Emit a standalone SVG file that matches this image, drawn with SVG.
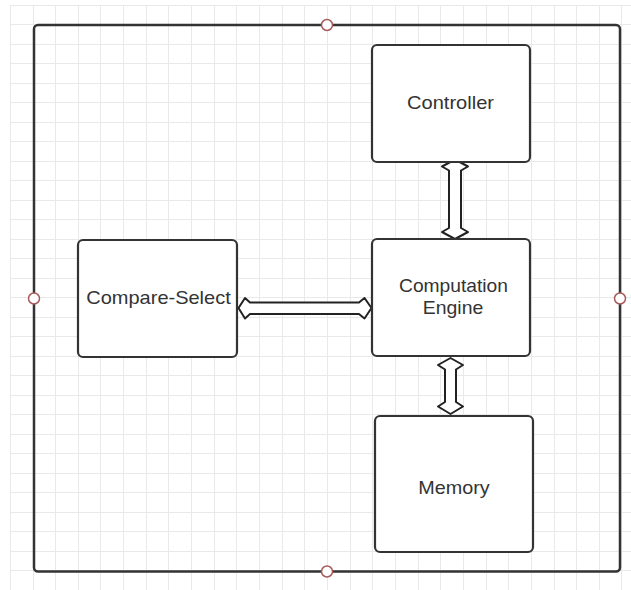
<svg xmlns="http://www.w3.org/2000/svg" width="631" height="590" viewBox="0 0 631 590">
  <style>
    .grid { stroke: #e9e9e9; stroke-width: 1; fill: none; }
    .frame { fill: none; stroke: #333333; stroke-width: 2.5; }
    .box { fill: #ffffff; stroke: #333333; stroke-width: 2.2; }
    .port { fill: #ffffff; stroke: #a85a5a; stroke-width: 1.5; }
    .arrow { fill: #ffffff; stroke: #222222; stroke-width: 2; stroke-linejoin: round; }
    .label { font-family: "Liberation Sans", Arial, sans-serif; font-size: 19px; fill: #333333; text-anchor: middle; }
  </style>
  <rect x="0" y="0" width="631" height="590" fill="#ffffff"/>
  <g id="grid">
    <path class="grid" d="M10.5 5V590M33.5 5V590M55.5 5V590M78.5 5V590M100.5 5V590M123.5 5V590M146.5 5V590M168.5 5V590M191.5 5V590M214.5 5V590M236.5 5V590M259.5 5V590M282.5 5V590M304.5 5V590M327.5 5V590M350.5 5V590M372.5 5V590M395.5 5V590M418.5 5V590M440.5 5V590M463.5 5V590M486.5 5V590M508.5 5V590M531.5 5V590M554.5 5V590M576.5 5V590M599.5 5V590M621.5 5V590"/>
    <path class="grid" d="M10 5.5H631M10 24.5H631M10 44.5H631M10 63.5H631M10 83.5H631M10 102.5H631M10 122.5H631M10 141.5H631M10 161.5H631M10 180.5H631M10 200.5H631M10 219.5H631M10 239.5H631M10 258.5H631M10 278.5H631M10 297.5H631M10 317.5H631M10 336.5H631M10 356.5H631M10 375.5H631M10 395.5H631M10 414.5H631M10 434.5H631M10 453.5H631M10 473.5H631M10 492.5H631M10 512.5H631M10 531.5H631M10 551.5H631M10 570.5H631"/>
  </g>
  <g id="container">
    <rect class="frame" x="34" y="25" width="586" height="546.5" rx="4"/>
    <circle class="port" cx="327" cy="25" r="5.5"/>
    <circle class="port" cx="34" cy="298.5" r="5.5"/>
    <circle class="port" cx="620" cy="298.5" r="5.5"/>
    <circle class="port" cx="327" cy="571.5" r="5.5"/>
  </g>
  <g id="connectors">
    <polygon class="arrow" points="455,159.5 442,166.5 449,170.5 449,228 442,232 455,239 468,232 461,228 461,170.5 468,166.5"/>
    <polygon class="arrow" points="238.5,308 245,298 250,302.5 359,302.5 364.5,298 371.5,308 364.5,318.5 359,314 250,314 245,318.5"/>
    <polygon class="arrow" points="450.5,358 438,365 445,369.5 445,402 438,406.5 450.5,414 463,406.5 456,402 456,369.5 463,365"/>
  </g>
  <g id="controller">
    <rect class="box" x="372" y="45" width="158" height="117" rx="5"/>
    <text class="label" x="450.5" y="108.5" textLength="87" lengthAdjust="spacingAndGlyphs">Controller</text>
  </g>
  <g id="computation-engine">
    <rect class="box" x="372" y="239" width="158" height="117" rx="5"/>
    <text class="label" x="453.5" y="291.5" textLength="109" lengthAdjust="spacingAndGlyphs">Computation</text>
    <text class="label" x="453" y="313.5" textLength="60.5" lengthAdjust="spacingAndGlyphs">Engine</text>
  </g>
  <g id="compare-select">
    <rect class="box" x="78" y="240" width="159" height="117" rx="5"/>
    <text class="label" x="158.5" y="303.5" textLength="144.5" lengthAdjust="spacingAndGlyphs">Compare-Select</text>
  </g>
  <g id="memory">
    <rect class="box" x="375" y="416" width="158" height="136" rx="5"/>
    <text class="label" x="454" y="493.5" textLength="71.5" lengthAdjust="spacingAndGlyphs">Memory</text>
  </g>
</svg>
